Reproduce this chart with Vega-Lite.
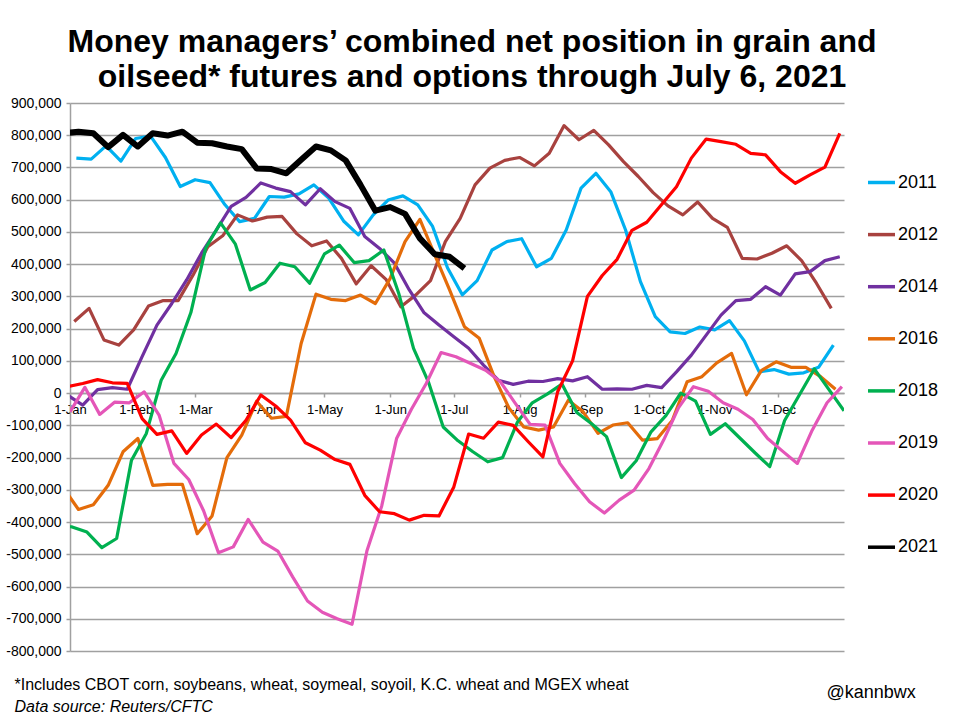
{
"$schema": "https://vega.github.io/schema/vega-lite/v6.json",
"width": 774,
"height": 548,
"autosize": {"type": "none"},
"padding": {"left": 70, "top": 103, "right": 120, "bottom": 72},
"background": "white",
"config": {"font": "Liberation Sans", "view": {"stroke": null}},
"title": {"text": ["Money managers’ combined net position in grain and", "oilseed* futures and options through July 6, 2021"], "fontSize": 32, "fontWeight": "bold", "font": "Liberation Sans", "color": "black", "lineHeight": 35, "anchor": "middle", "frame": "group", "dx": 15, "offset": 2},
"data": {"values": [
{"s":"2011","d":"2021-01-04","v":729000},{"s":"2011","d":"2021-01-11","v":726000},{"s":"2011","d":"2021-01-18","v":767000},{"s":"2011","d":"2021-01-25","v":720000},{"s":"2011","d":"2021-02-01","v":790000},{"s":"2011","d":"2021-02-08","v":797000},{"s":"2011","d":"2021-02-15","v":731000},{"s":"2011","d":"2021-02-22","v":641000},{"s":"2011","d":"2021-03-01","v":662000},{"s":"2011","d":"2021-03-08","v":653000},{"s":"2011","d":"2021-03-15","v":585000},{"s":"2011","d":"2021-03-22","v":532000},{"s":"2011","d":"2021-03-29","v":542000},{"s":"2011","d":"2021-04-05","v":610000},{"s":"2011","d":"2021-04-12","v":608000},{"s":"2011","d":"2021-04-19","v":618000},{"s":"2011","d":"2021-04-26","v":646000},{"s":"2011","d":"2021-05-03","v":605000},{"s":"2011","d":"2021-05-10","v":534000},{"s":"2011","d":"2021-05-17","v":491000},{"s":"2011","d":"2021-05-24","v":553000},{"s":"2011","d":"2021-05-31","v":599000},{"s":"2011","d":"2021-06-07","v":612000},{"s":"2011","d":"2021-06-14","v":584000},{"s":"2011","d":"2021-06-21","v":517000},{"s":"2011","d":"2021-06-28","v":389000},{"s":"2011","d":"2021-07-05","v":305000},{"s":"2011","d":"2021-07-12","v":349000},{"s":"2011","d":"2021-07-19","v":444000},{"s":"2011","d":"2021-07-26","v":470000},{"s":"2011","d":"2021-08-02","v":479000},{"s":"2011","d":"2021-08-09","v":392000},{"s":"2011","d":"2021-08-16","v":418000},{"s":"2011","d":"2021-08-23","v":506000},{"s":"2011","d":"2021-08-30","v":636000},{"s":"2011","d":"2021-09-06","v":682000},{"s":"2011","d":"2021-09-13","v":625000},{"s":"2011","d":"2021-09-20","v":506000},{"s":"2011","d":"2021-09-27","v":346000},{"s":"2011","d":"2021-10-04","v":237000},{"s":"2011","d":"2021-10-11","v":190000},{"s":"2011","d":"2021-10-18","v":185000},{"s":"2011","d":"2021-10-25","v":205000},{"s":"2011","d":"2021-11-01","v":196000},{"s":"2011","d":"2021-11-08","v":225000},{"s":"2011","d":"2021-11-15","v":162000},{"s":"2011","d":"2021-11-22","v":66000},{"s":"2011","d":"2021-11-29","v":73000},{"s":"2011","d":"2021-12-06","v":59000},{"s":"2011","d":"2021-12-13","v":63000},{"s":"2011","d":"2021-12-20","v":80000},{"s":"2011","d":"2021-12-27","v":149000},
{"s":"2012","d":"2021-01-03","v":222000},{"s":"2012","d":"2021-01-10","v":263000},{"s":"2012","d":"2021-01-17","v":165000},{"s":"2012","d":"2021-01-24","v":149000},{"s":"2012","d":"2021-01-31","v":196000},{"s":"2012","d":"2021-02-07","v":270000},{"s":"2012","d":"2021-02-14","v":287000},{"s":"2012","d":"2021-02-21","v":287000},{"s":"2012","d":"2021-02-28","v":366000},{"s":"2012","d":"2021-03-07","v":454000},{"s":"2012","d":"2021-03-14","v":488000},{"s":"2012","d":"2021-03-21","v":553000},{"s":"2012","d":"2021-03-28","v":534000},{"s":"2012","d":"2021-04-04","v":546000},{"s":"2012","d":"2021-04-11","v":548000},{"s":"2012","d":"2021-04-18","v":494000},{"s":"2012","d":"2021-04-25","v":457000},{"s":"2012","d":"2021-05-02","v":472000},{"s":"2012","d":"2021-05-09","v":418000},{"s":"2012","d":"2021-05-16","v":339000},{"s":"2012","d":"2021-05-23","v":395000},{"s":"2012","d":"2021-05-30","v":353000},{"s":"2012","d":"2021-06-06","v":268000},{"s":"2012","d":"2021-06-13","v":304000},{"s":"2012","d":"2021-06-20","v":349000},{"s":"2012","d":"2021-06-27","v":470000},{"s":"2012","d":"2021-07-04","v":542000},{"s":"2012","d":"2021-07-11","v":646000},{"s":"2012","d":"2021-07-18","v":698000},{"s":"2012","d":"2021-07-25","v":722000},{"s":"2012","d":"2021-08-01","v":731000},{"s":"2012","d":"2021-08-08","v":705000},{"s":"2012","d":"2021-08-15","v":744000},{"s":"2012","d":"2021-08-22","v":830000},{"s":"2012","d":"2021-08-29","v":786000},{"s":"2012","d":"2021-09-05","v":815000},{"s":"2012","d":"2021-09-12","v":770000},{"s":"2012","d":"2021-09-19","v":718000},{"s":"2012","d":"2021-09-26","v":672000},{"s":"2012","d":"2021-10-03","v":622000},{"s":"2012","d":"2021-10-10","v":581000},{"s":"2012","d":"2021-10-17","v":553000},{"s":"2012","d":"2021-10-24","v":593000},{"s":"2012","d":"2021-10-31","v":542000},{"s":"2012","d":"2021-11-07","v":514000},{"s":"2012","d":"2021-11-14","v":418000},{"s":"2012","d":"2021-11-21","v":416000},{"s":"2012","d":"2021-11-28","v":434000},{"s":"2012","d":"2021-12-05","v":457000},{"s":"2012","d":"2021-12-12","v":411000},{"s":"2012","d":"2021-12-19","v":341000},{"s":"2012","d":"2021-12-26","v":263000},
{"s":"2014","d":"2020-12-31","v":-7000},{"s":"2014","d":"2021-01-07","v":-37000},{"s":"2014","d":"2021-01-14","v":11000},{"s":"2014","d":"2021-01-21","v":17000},{"s":"2014","d":"2021-01-28","v":12000},{"s":"2014","d":"2021-02-04","v":113000},{"s":"2014","d":"2021-02-11","v":211000},{"s":"2014","d":"2021-02-18","v":278000},{"s":"2014","d":"2021-02-25","v":351000},{"s":"2014","d":"2021-03-04","v":434000},{"s":"2014","d":"2021-03-11","v":506000},{"s":"2014","d":"2021-03-18","v":579000},{"s":"2014","d":"2021-03-25","v":607000},{"s":"2014","d":"2021-04-01","v":652000},{"s":"2014","d":"2021-04-08","v":636000},{"s":"2014","d":"2021-04-15","v":625000},{"s":"2014","d":"2021-04-22","v":584000},{"s":"2014","d":"2021-04-29","v":634000},{"s":"2014","d":"2021-05-06","v":594000},{"s":"2014","d":"2021-05-13","v":573000},{"s":"2014","d":"2021-05-20","v":486000},{"s":"2014","d":"2021-05-27","v":449000},{"s":"2014","d":"2021-06-03","v":403000},{"s":"2014","d":"2021-06-10","v":320000},{"s":"2014","d":"2021-06-17","v":249000},{"s":"2014","d":"2021-06-24","v":211000},{"s":"2014","d":"2021-07-01","v":175000},{"s":"2014","d":"2021-07-08","v":139000},{"s":"2014","d":"2021-07-15","v":87000},{"s":"2014","d":"2021-07-22","v":40000},{"s":"2014","d":"2021-07-29","v":27000},{"s":"2014","d":"2021-08-05","v":37000},{"s":"2014","d":"2021-08-12","v":36000},{"s":"2014","d":"2021-08-19","v":45000},{"s":"2014","d":"2021-08-26","v":38000},{"s":"2014","d":"2021-09-02","v":51000},{"s":"2014","d":"2021-09-09","v":12000},{"s":"2014","d":"2021-09-16","v":13000},{"s":"2014","d":"2021-09-23","v":12000},{"s":"2014","d":"2021-09-30","v":24000},{"s":"2014","d":"2021-10-07","v":17000},{"s":"2014","d":"2021-10-14","v":66000},{"s":"2014","d":"2021-10-21","v":118000},{"s":"2014","d":"2021-10-28","v":180000},{"s":"2014","d":"2021-11-04","v":242000},{"s":"2014","d":"2021-11-11","v":287000},{"s":"2014","d":"2021-11-18","v":291000},{"s":"2014","d":"2021-11-25","v":330000},{"s":"2014","d":"2021-12-02","v":304000},{"s":"2014","d":"2021-12-09","v":370000},{"s":"2014","d":"2021-12-16","v":377000},{"s":"2014","d":"2021-12-23","v":411000},{"s":"2014","d":"2021-12-30","v":423000},
{"s":"2016","d":"2020-12-29","v":-295000},{"s":"2016","d":"2021-01-05","v":-361000},{"s":"2016","d":"2021-01-12","v":-346000},{"s":"2016","d":"2021-01-19","v":-286000},{"s":"2016","d":"2021-01-26","v":-182000},{"s":"2016","d":"2021-02-02","v":-141000},{"s":"2016","d":"2021-02-09","v":-286000},{"s":"2016","d":"2021-02-16","v":-283000},{"s":"2016","d":"2021-02-23","v":-283000},{"s":"2016","d":"2021-03-02","v":-436000},{"s":"2016","d":"2021-03-09","v":-381000},{"s":"2016","d":"2021-03-16","v":-200000},{"s":"2016","d":"2021-03-23","v":-130000},{"s":"2016","d":"2021-03-30","v":-25000},{"s":"2016","d":"2021-04-06","v":-78000},{"s":"2016","d":"2021-04-13","v":-72000},{"s":"2016","d":"2021-04-20","v":154000},{"s":"2016","d":"2021-04-27","v":307000},{"s":"2016","d":"2021-05-04","v":291000},{"s":"2016","d":"2021-05-11","v":287000},{"s":"2016","d":"2021-05-18","v":304000},{"s":"2016","d":"2021-05-25","v":278000},{"s":"2016","d":"2021-06-01","v":356000},{"s":"2016","d":"2021-06-08","v":470000},{"s":"2016","d":"2021-06-15","v":539000},{"s":"2016","d":"2021-06-22","v":429000},{"s":"2016","d":"2021-06-29","v":320000},{"s":"2016","d":"2021-07-06","v":206000},{"s":"2016","d":"2021-07-13","v":170000},{"s":"2016","d":"2021-07-20","v":51000},{"s":"2016","d":"2021-07-27","v":-46000},{"s":"2016","d":"2021-08-03","v":-105000},{"s":"2016","d":"2021-08-10","v":-115000},{"s":"2016","d":"2021-08-17","v":-105000},{"s":"2016","d":"2021-08-24","v":-22000},{"s":"2016","d":"2021-08-31","v":-58000},{"s":"2016","d":"2021-09-07","v":-125000},{"s":"2016","d":"2021-09-14","v":-99000},{"s":"2016","d":"2021-09-21","v":-92000},{"s":"2016","d":"2021-09-28","v":-146000},{"s":"2016","d":"2021-10-05","v":-141000},{"s":"2016","d":"2021-10-12","v":-85000},{"s":"2016","d":"2021-10-19","v":35000},{"s":"2016","d":"2021-10-26","v":51000},{"s":"2016","d":"2021-11-02","v":94000},{"s":"2016","d":"2021-11-09","v":123000},{"s":"2016","d":"2021-11-16","v":-5000},{"s":"2016","d":"2021-11-23","v":70000},{"s":"2016","d":"2021-11-30","v":97000},{"s":"2016","d":"2021-12-07","v":80000},{"s":"2016","d":"2021-12-14","v":80000},{"s":"2016","d":"2021-12-21","v":51000},{"s":"2016","d":"2021-12-28","v":12000},
{"s":"2018","d":"2020-12-26","v":-412000},{"s":"2018","d":"2021-01-02","v":-415000},{"s":"2018","d":"2021-01-09","v":-431000},{"s":"2018","d":"2021-01-16","v":-479000},{"s":"2018","d":"2021-01-23","v":-451000},{"s":"2018","d":"2021-01-30","v":-208000},{"s":"2018","d":"2021-02-06","v":-125000},{"s":"2018","d":"2021-02-13","v":40000},{"s":"2018","d":"2021-02-20","v":123000},{"s":"2018","d":"2021-02-27","v":250000},{"s":"2018","d":"2021-03-06","v":450000},{"s":"2018","d":"2021-03-13","v":528000},{"s":"2018","d":"2021-03-20","v":462000},{"s":"2018","d":"2021-03-27","v":320000},{"s":"2018","d":"2021-04-03","v":343000},{"s":"2018","d":"2021-04-10","v":403000},{"s":"2018","d":"2021-04-17","v":392000},{"s":"2018","d":"2021-04-24","v":341000},{"s":"2018","d":"2021-05-01","v":432000},{"s":"2018","d":"2021-05-08","v":459000},{"s":"2018","d":"2021-05-15","v":405000},{"s":"2018","d":"2021-05-22","v":411000},{"s":"2018","d":"2021-05-29","v":444000},{"s":"2018","d":"2021-06-05","v":310000},{"s":"2018","d":"2021-06-12","v":139000},{"s":"2018","d":"2021-06-19","v":35000},{"s":"2018","d":"2021-06-26","v":-105000},{"s":"2018","d":"2021-07-03","v":-148000},{"s":"2018","d":"2021-07-10","v":-182000},{"s":"2018","d":"2021-07-17","v":-213000},{"s":"2018","d":"2021-07-24","v":-200000},{"s":"2018","d":"2021-07-31","v":-90000},{"s":"2018","d":"2021-08-07","v":-30000},{"s":"2018","d":"2021-08-14","v":-3000},{"s":"2018","d":"2021-08-21","v":28000},{"s":"2018","d":"2021-08-28","v":-60000},{"s":"2018","d":"2021-09-04","v":-95000},{"s":"2018","d":"2021-09-11","v":-135000},{"s":"2018","d":"2021-09-18","v":-262000},{"s":"2018","d":"2021-09-25","v":-210000},{"s":"2018","d":"2021-10-02","v":-120000},{"s":"2018","d":"2021-10-09","v":-70000},{"s":"2018","d":"2021-10-16","v":0},{"s":"2018","d":"2021-10-23","v":-25000},{"s":"2018","d":"2021-10-30","v":-128000},{"s":"2018","d":"2021-11-06","v":-95000},{"s":"2018","d":"2021-11-13","v":-140000},{"s":"2018","d":"2021-11-20","v":-185000},{"s":"2018","d":"2021-11-27","v":-228000},{"s":"2018","d":"2021-12-04","v":-85000},{"s":"2018","d":"2021-12-11","v":-5000},{"s":"2018","d":"2021-12-18","v":75000},{"s":"2018","d":"2021-12-25","v":10000},{"s":"2018","d":"2022-01-01","v":-55000},
{"s":"2019","d":"2021-01-01","v":-58000},{"s":"2019","d":"2021-01-08","v":18000},{"s":"2019","d":"2021-01-15","v":-66000},{"s":"2019","d":"2021-01-22","v":-28000},{"s":"2019","d":"2021-01-29","v":-30000},{"s":"2019","d":"2021-02-05","v":4000},{"s":"2019","d":"2021-02-12","v":-68000},{"s":"2019","d":"2021-02-19","v":-218000},{"s":"2019","d":"2021-02-26","v":-268000},{"s":"2019","d":"2021-03-05","v":-365000},{"s":"2019","d":"2021-03-12","v":-495000},{"s":"2019","d":"2021-03-19","v":-477000},{"s":"2019","d":"2021-03-26","v":-392000},{"s":"2019","d":"2021-04-02","v":-462000},{"s":"2019","d":"2021-04-09","v":-490000},{"s":"2019","d":"2021-04-16","v":-570000},{"s":"2019","d":"2021-04-23","v":-645000},{"s":"2019","d":"2021-04-30","v":-680000},{"s":"2019","d":"2021-05-07","v":-700000},{"s":"2019","d":"2021-05-14","v":-717000},{"s":"2019","d":"2021-05-21","v":-490000},{"s":"2019","d":"2021-05-28","v":-350000},{"s":"2019","d":"2021-06-04","v":-141000},{"s":"2019","d":"2021-06-11","v":-50000},{"s":"2019","d":"2021-06-18","v":30000},{"s":"2019","d":"2021-06-25","v":126000},{"s":"2019","d":"2021-07-02","v":113000},{"s":"2019","d":"2021-07-09","v":92000},{"s":"2019","d":"2021-07-16","v":71000},{"s":"2019","d":"2021-07-23","v":35000},{"s":"2019","d":"2021-07-30","v":-32000},{"s":"2019","d":"2021-08-06","v":-97000},{"s":"2019","d":"2021-08-13","v":-99000},{"s":"2019","d":"2021-08-20","v":-218000},{"s":"2019","d":"2021-08-27","v":-281000},{"s":"2019","d":"2021-09-03","v":-337000},{"s":"2019","d":"2021-09-10","v":-372000},{"s":"2019","d":"2021-09-17","v":-332000},{"s":"2019","d":"2021-09-24","v":-301000},{"s":"2019","d":"2021-10-01","v":-234000},{"s":"2019","d":"2021-10-08","v":-145000},{"s":"2019","d":"2021-10-15","v":-45000},{"s":"2019","d":"2021-10-22","v":20000},{"s":"2019","d":"2021-10-29","v":6000},{"s":"2019","d":"2021-11-05","v":-30000},{"s":"2019","d":"2021-11-12","v":-50000},{"s":"2019","d":"2021-11-19","v":-82000},{"s":"2019","d":"2021-11-26","v":-141000},{"s":"2019","d":"2021-12-03","v":-180000},{"s":"2019","d":"2021-12-10","v":-218000},{"s":"2019","d":"2021-12-17","v":-115000},{"s":"2019","d":"2021-12-24","v":-30000},{"s":"2019","d":"2021-12-31","v":20000},
{"s":"2020","d":"2020-12-31","v":20000},{"s":"2020","d":"2021-01-07","v":30000},{"s":"2020","d":"2021-01-14","v":42000},{"s":"2020","d":"2021-01-21","v":32000},{"s":"2020","d":"2021-01-28","v":30000},{"s":"2020","d":"2021-02-04","v":-79000},{"s":"2020","d":"2021-02-11","v":-128000},{"s":"2020","d":"2021-02-18","v":-117000},{"s":"2020","d":"2021-02-25","v":-187000},{"s":"2020","d":"2021-03-04","v":-130000},{"s":"2020","d":"2021-03-11","v":-96000},{"s":"2020","d":"2021-03-18","v":-138000},{"s":"2020","d":"2021-03-25","v":-84000},{"s":"2020","d":"2021-04-01","v":-6000},{"s":"2020","d":"2021-04-08","v":-40000},{"s":"2020","d":"2021-04-15","v":-84000},{"s":"2020","d":"2021-04-22","v":-154000},{"s":"2020","d":"2021-04-29","v":-177000},{"s":"2020","d":"2021-05-06","v":-206000},{"s":"2020","d":"2021-05-13","v":-221000},{"s":"2020","d":"2021-05-20","v":-317000},{"s":"2020","d":"2021-05-27","v":-368000},{"s":"2020","d":"2021-06-03","v":-374000},{"s":"2020","d":"2021-06-10","v":-394000},{"s":"2020","d":"2021-06-17","v":-379000},{"s":"2020","d":"2021-06-24","v":-381000},{"s":"2020","d":"2021-07-01","v":-291000},{"s":"2020","d":"2021-07-08","v":-127000},{"s":"2020","d":"2021-07-15","v":-140000},{"s":"2020","d":"2021-07-22","v":-90000},{"s":"2020","d":"2021-07-29","v":-100000},{"s":"2020","d":"2021-08-05","v":-150000},{"s":"2020","d":"2021-08-12","v":-198000},{"s":"2020","d":"2021-08-19","v":5000},{"s":"2020","d":"2021-08-26","v":100000},{"s":"2020","d":"2021-09-02","v":300000},{"s":"2020","d":"2021-09-09","v":365000},{"s":"2020","d":"2021-09-16","v":415000},{"s":"2020","d":"2021-09-23","v":505000},{"s":"2020","d":"2021-09-30","v":530000},{"s":"2020","d":"2021-10-07","v":585000},{"s":"2020","d":"2021-10-14","v":640000},{"s":"2020","d":"2021-10-21","v":729000},{"s":"2020","d":"2021-10-28","v":788000},{"s":"2020","d":"2021-11-04","v":780000},{"s":"2020","d":"2021-11-11","v":772000},{"s":"2020","d":"2021-11-18","v":744000},{"s":"2020","d":"2021-11-25","v":739000},{"s":"2020","d":"2021-12-02","v":687000},{"s":"2020","d":"2021-12-09","v":651000},{"s":"2020","d":"2021-12-16","v":677000},{"s":"2020","d":"2021-12-23","v":701000},{"s":"2020","d":"2021-12-30","v":806000},
{"s":"2021","d":"2020-12-29","v":806000},{"s":"2021","d":"2021-01-05","v":811000},{"s":"2021","d":"2021-01-12","v":806000},{"s":"2021","d":"2021-01-19","v":763000},{"s":"2021","d":"2021-01-26","v":801000},{"s":"2021","d":"2021-02-02","v":765000},{"s":"2021","d":"2021-02-09","v":806000},{"s":"2021","d":"2021-02-16","v":799000},{"s":"2021","d":"2021-02-23","v":811000},{"s":"2021","d":"2021-03-02","v":777000},{"s":"2021","d":"2021-03-09","v":775000},{"s":"2021","d":"2021-03-16","v":765000},{"s":"2021","d":"2021-03-23","v":757000},{"s":"2021","d":"2021-03-30","v":697000},{"s":"2021","d":"2021-04-06","v":695000},{"s":"2021","d":"2021-04-13","v":682000},{"s":"2021","d":"2021-04-20","v":724000},{"s":"2021","d":"2021-04-27","v":765000},{"s":"2021","d":"2021-05-04","v":753000},{"s":"2021","d":"2021-05-11","v":722000},{"s":"2021","d":"2021-05-18","v":646000},{"s":"2021","d":"2021-05-25","v":566000},{"s":"2021","d":"2021-06-01","v":577000},{"s":"2021","d":"2021-06-08","v":556000},{"s":"2021","d":"2021-06-15","v":480000},{"s":"2021","d":"2021-06-22","v":431000},{"s":"2021","d":"2021-06-29","v":423000},{"s":"2021","d":"2021-07-06","v":387000}
]},
"layer": [
{
"mark": {"type": "line", "clip": true, "strokeJoin": "round", "strokeCap": "butt"},
"encoding": {
"x": {"field": "d", "type": "temporal",
 "scale": {"type": "utc", "domain": [{"year": 2021, "month": 1, "date": 1, "utc": true}, {"year": 2022, "month": 1, "date": 1, "utc": true}]},
 "axis": {"orient": "bottom", "offset": -258, "grid": false,
  "values": [{"year": 2021, "month": 1, "date": 1, "utc": true}, {"year": 2021, "month": 2, "date": 1, "utc": true}, {"year": 2021, "month": 3, "date": 1, "utc": true}, {"year": 2021, "month": 4, "date": 1, "utc": true}, {"year": 2021, "month": 5, "date": 1, "utc": true}, {"year": 2021, "month": 6, "date": 1, "utc": true}, {"year": 2021, "month": 7, "date": 1, "utc": true}, {"year": 2021, "month": 8, "date": 1, "utc": true}, {"year": 2021, "month": 9, "date": 1, "utc": true}, {"year": 2021, "month": 10, "date": 1, "utc": true}, {"year": 2021, "month": 11, "date": 1, "utc": true}, {"year": 2021, "month": 12, "date": 1, "utc": true}],
  "format": "%-d-%b", "labelFontSize": 13, "labelColor": "black", "labelFlush": false, "labelOverlap": false, "labelPadding": 6,
  "domainColor": "#a0a0a0", "domainWidth": 1.5, "tickColor": "#a0a0a0", "tickSize": 4, "tickWidth": 1.5,
  "title": "*Includes CBOT corn, soybeans, wheat, soymeal, soyoil, K.C. wheat and MGEX wheat",
  "titleX": -56, "titleY": 296, "titleAlign": "left", "titleAnchor": null, "titleBaseline": "alphabetic", "titleFontSize": 16, "titleFontWeight": "normal", "titleColor": "black"}},
"y": {"field": "v", "type": "quantitative",
 "scale": {"domain": [-800000, 900000], "nice": false, "zero": false},
 "axis": {"orient": "left", "title": null, "values": [-800000, -700000, -600000, -500000, -400000, -300000, -200000, -100000, 0, 100000, 200000, 300000, 400000, 500000, 600000, 700000, 800000, 900000],
  "labelExpr": "replace(format(datum.value, ','), '−', '-')", "labelFontSize": 14, "labelColor": "black", "labelPadding": 5,
  "grid": true, "gridColor": "#a0a0a0", "gridWidth": 1.5, "domainColor": "#a0a0a0", "domainWidth": 1.5, "tickColor": "#a0a0a0", "tickSize": 4, "tickWidth": 1.5}},
"color": {"field": "s", "type": "nominal",
 "scale": {"domain": ["2011", "2012", "2014", "2016", "2018", "2019", "2020", "2021"], "range": ["#00B0F0", "#A8423F", "#7030A0", "#E46C0A", "#00B050", "#E456B8", "#FF0000", "#000000"]},
 "legend": {"orient": "none", "legendX": 796, "legendY": 64, "title": null, "symbolType": "stroke", "symbolSize": 729, "symbolStrokeWidth": 3.5, "labelFontSize": 18, "labelColor": "black", "rowPadding": 27.1, "labelOffset": 1}},
"strokeWidth": {"condition": {"test": "datum.s === '2021'", "value": 6}, "value": 3.2}
}
},
{
"mark": {"type": "point", "opacity": 0},
"encoding": {
"x": {"field": "d", "type": "temporal",
 "axis": {"orient": "bottom", "labels": false, "ticks": false, "domain": false, "grid": false,
  "title": "Data source: Reuters/CFTC", "titleFontStyle": "italic", "titleX": -56, "titleY": 60, "titleAlign": "left", "titleAnchor": null, "titleBaseline": "alphabetic", "titleFontSize": 16, "titleFontWeight": "normal", "titleColor": "black"}},
"y": {"field": "v", "type": "quantitative",
 "axis": {"orient": "right", "labels": false, "ticks": false, "domain": false, "grid": false,
  "title": "@kannbwx", "titleAngle": 0, "titleX": -18, "titleY": 594, "titleAlign": "left", "titleAnchor": null, "titleBaseline": "alphabetic", "titleFontSize": 18, "titleFontWeight": "normal", "titleColor": "black"}}
}
}
],
"resolve": {"axis": {"x": "independent", "y": "independent"}}
}
